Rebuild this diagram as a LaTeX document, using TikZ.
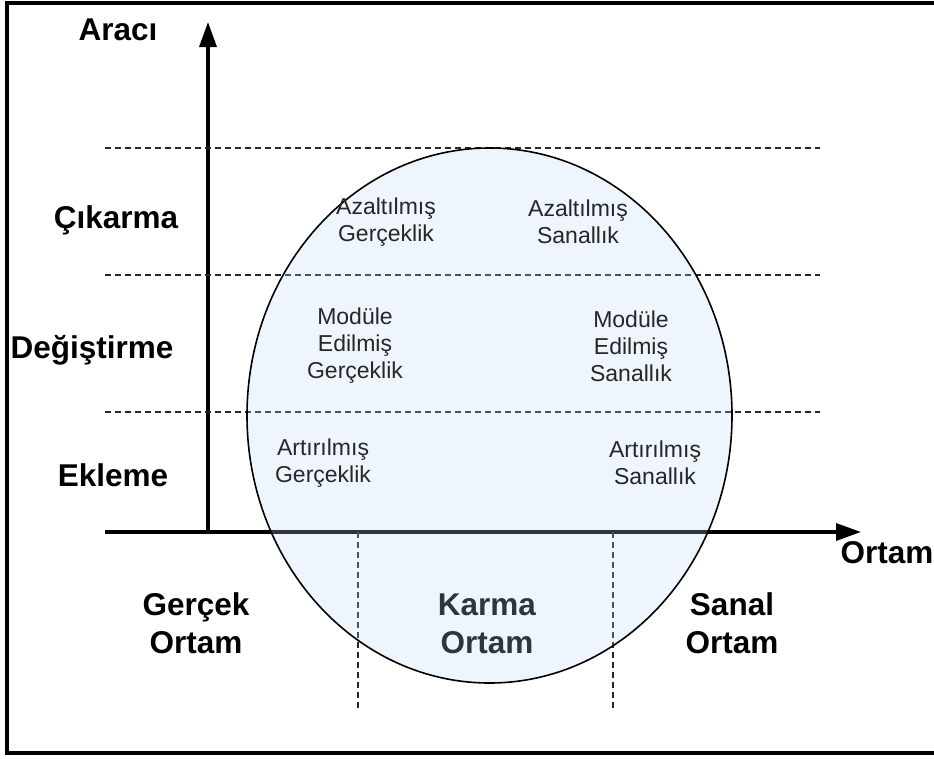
\documentclass[tikz,border=0pt]{standalone}
\usepackage{fontspec}
\setmainfont{Liberation Sans}
\usepackage{tikz}
\usetikzlibrary{arrows.meta,shapes.geometric}
\definecolor{lensfill}{HTML}{BAD7F3}
\tikzset{
  frame/.style={draw=black, line width=4pt, line cap=rect},
  axis/.style={draw=black, line width=3.4pt, -{Triangle[length=25pt, width=17pt]}},
  grid/.style={draw=black!85, line width=1.4pt, dash pattern=on 6pt off 4pt},  % dashed level line
  lens/.style={ellipse, draw=black, line width=1.6pt, fill=lensfill, fill opacity=0.25,
               text opacity=1, inner sep=0pt, minimum width=485pt, minimum height=535pt},
  big/.style={font=\bfseries\fontsize{31.5}{38}\selectfont, align=center, inner sep=0pt},
  small/.style={font=\fontsize{23}{27}\selectfont, text=black!85, align=center, inner sep=0pt},
}
\begin{document}
\begin{tikzpicture}[x=1pt, y=-1pt]
  \useasboundingbox (0,0) rectangle (934,758);
  % ---------------- frame (open on the right) ----------------
  \draw[frame] (936,3) -- (7,3) -- (7,753) -- (936,753);
  % ---------------- axes ----------------
  \coordinate (o)    at (208,532);
  \coordinate (ytip) at (208,22);
  \coordinate (xl)   at (105,532);
  \coordinate (xtip) at (861,532);
  \draw[axis] (o) -- (ytip);
  \draw[axis] (xl) -- (xtip);
  \node[big] (arac)  at (118,30)  {Aracı};
  \node[big] (ortam) at (887,553) {Ortam};
  % ---------------- levels ----------------
  \foreach \h/\n in {148/a,275/b,412/c} {
    \coordinate (l\n) at (105,\h);
    \coordinate (r\n) at (820,\h);
    \draw[grid] (l\n) -- (r\n);
  }
  \node[big] (cik) at (116,220) {Çıkarma};
  \node[big] (deg) at (92,350)  {Değiştirme};
  \node[big] (ekl) at (113,475) {Ekleme};
  % ---------------- media ----------------
  \foreach \x/\n in {358/p,613/q} {
    \coordinate (t\n) at (\x,532);
    \coordinate (b\n) at (\x,710);
    \draw[grid] (t\n) -- (b\n);
  }
  \node[big] (gercek) at (196,623) {Gerçek\\Ortam};
  \node[big, text=black] (karma) at (487,624) {Karma\\Ortam};
  \node[big] (sanal)  at (732,623) {Sanal\\Ortam};
  % the lens is see-through, so axis and lines show grey inside it
  \node[lens] (mix) at (489.5,415.5) {};
  % ---------------- cells ----------------
  \node[small] (ag) at (386,222) {Azaltılmış\\Gerçeklik};
  \node[small] (as) at (578,222) {Azaltılmış\\Sanallık};
  \node[small] (mg) at (355,346) {Modüle\\Edilmiş\\Gerçeklik};
  \node[small] (ms) at (631,346) {Modüle\\Edilmiş\\Sanallık};
  \node[small] (rg) at (323,463) {Artırılmış\\Gerçeklik};
  \node[small] (rs) at (655,463) {Artırılmış\\Sanallık};
\end{tikzpicture}
\end{document}
